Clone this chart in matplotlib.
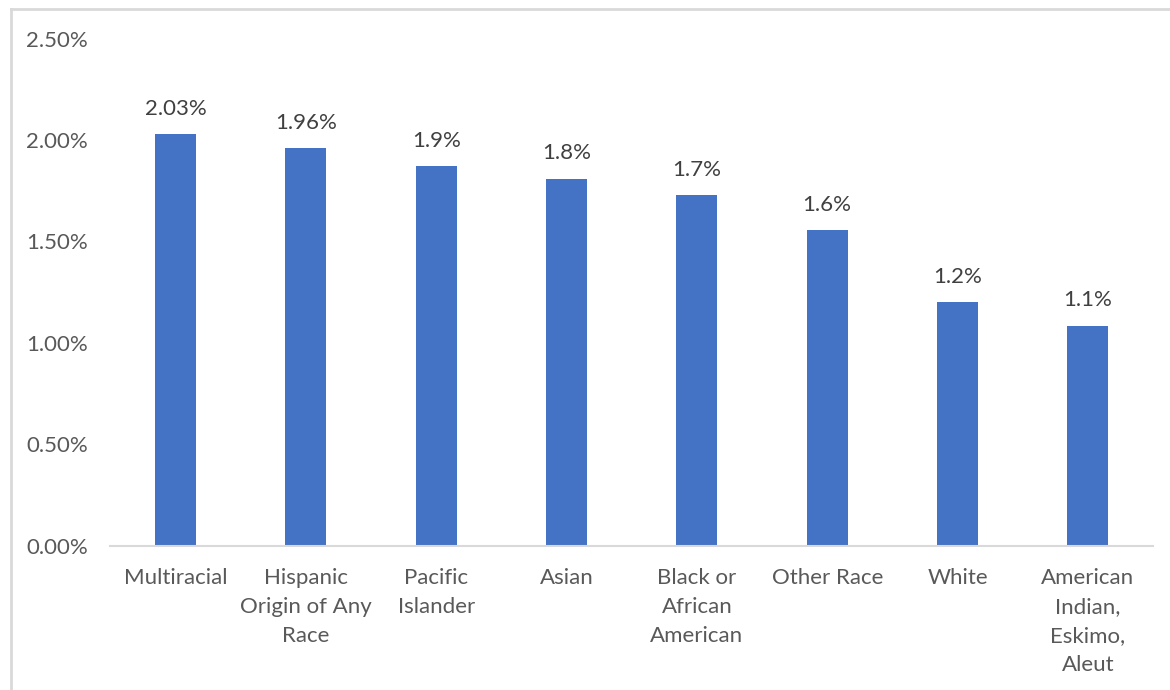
import matplotlib.pyplot as plt
from matplotlib.lines import Line2D
from matplotlib.ticker import FuncFormatter

categories = ["Multiracial", "Hispanic\nOrigin of Any\nRace", "Pacific\nIslander", "Asian",
              "Black or\nAfrican\nAmerican", "Other Race", "White",
              "American\nIndian,\nEskimo,\nAleut"]
rates = [2.03, 1.96, 1.87, 1.81, 1.73, 1.555, 1.20, 1.085]   # percent
label_decimals = [2, 2, 1, 1, 1, 1, 1, 1]

bar_color = "#4472C4"
text_color = "#595959"
line_color = "#D9D9D9"

plt.rcParams["font.family"] = ["Lato", "DejaVu Sans"]

fig = plt.figure(figsize=(11.7, 6.9), dpi=100)
ax = fig.add_axes([0.0943, 0.2087, 0.8912, 0.7355])

x = range(len(categories))
bars = ax.bar(x, rates, width=0.315, color=bar_color, zorder=2)

for rect, val, d in zip(bars, rates, label_decimals):
    ax.annotate(f"{val:.{d}f}%", (rect.get_x() + rect.get_width() / 2, val),
                xytext=(0, 11), textcoords="offset points", ha="center", va="bottom",
                fontsize=16, color="#404040")

ax.set_xlim(-0.5, len(categories) - 0.5)
ax.set_ylim(0, 2.5)
ax.set_yticks([0, 0.5, 1.0, 1.5, 2.0, 2.5])
ax.yaxis.set_major_formatter(FuncFormatter(lambda v, p: f"{v:.2f}%"))
ax.set_xticks(list(x))
ax.set_xticklabels(categories, linespacing=1.55)

for s in ["top", "right", "left"]:
    ax.spines[s].set_visible(False)
ax.spines["bottom"].set_color(line_color)
ax.spines["bottom"].set_linewidth(1.5)
ax.tick_params(axis="both", length=0, labelsize=16, labelcolor=text_color)
ax.tick_params(axis="y", pad=16)
ax.tick_params(axis="x", pad=16)

# chart frame (left and top edges)
fig.add_artist(Line2D([11 / 1170, 11 / 1170], [0, 1 - 9 / 690], transform=fig.transFigure,
                      color=line_color, lw=2))
fig.add_artist(Line2D([11 / 1170, 1], [1 - 9 / 690, 1 - 9 / 690], transform=fig.transFigure,
                      color=line_color, lw=2))

fig.savefig("out.png", dpi=100, facecolor="white")
